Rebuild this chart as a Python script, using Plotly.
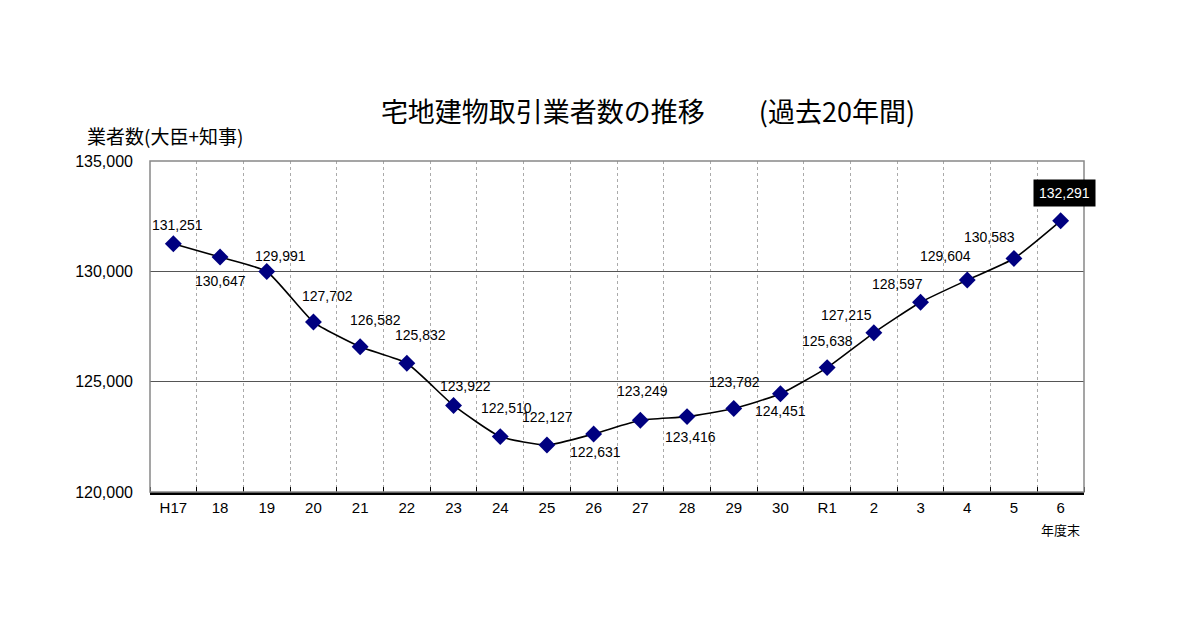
import plotly.graph_objects as go

categories = ["H17", "18", "19", "20", "21", "22", "23", "24", "25", "26",
              "27", "28", "29", "30", "R1", "2", "3", "4", "5", "6"]
values = [131251, 130647, 129991, 127702, 126582, 125832, 123922, 122510, 122127, 122631,
          123249, 123416, 123782, 124451, 125638, 127215, 128597, 129604, 130583, 132291]
# label offsets (pixels) for each data label
label_dx = [4, 0, 14, 14, 15, 14, 12, 6, 1, 2, 2, 3, 1, 0, 0, -27, -23, -22, -24, 4]
label_dy = [19, -24, 16, 26, 27, 28, 19, 29, 28, -18, 29, -20, 27, -17, 27, 18, 18, 24, 21, 28]

xs = list(range(len(categories)))
fig = go.Figure()
fig.add_trace(go.Scatter(
    x=xs, y=values, mode="lines+markers",
    line=dict(color="black", width=1.6, shape="spline", smoothing=0.5),
    marker=dict(symbol="diamond", size=13, color="#000080", line=dict(width=0)),
    hoverinfo="skip", showlegend=False))

fmt = lambda v: f"{v:,}"
for i, (x, v) in enumerate(zip(xs, values)):
    last = i == len(values) - 1
    fig.add_annotation(
        x=x, y=v, text=fmt(v), showarrow=False,
        xshift=label_dx[i], yshift=label_dy[i],
        font=dict(family="Liberation Sans, Arial", size=14,
                  color="white" if last else "black"),
        bgcolor="black" if last else None,
        borderpad=5 if last else 0)

fig.add_shape(type="rect", xref="x domain", yref="y domain", x0=0, x1=1, y0=0, y1=1,
              line=dict(color="#888888", width=1.5), layer="above")

fig.update_layout(
    width=1200, height=630, paper_bgcolor="white", plot_bgcolor="white",
    margin=dict(l=150, r=116, t=161, b=138),
    title=dict(text="宅地建物取引業者数の推移　　(過去20年間)", x=0.54, xanchor="center",
               y=0.822, yanchor="middle",
               font=dict(family="Noto Sans CJK JP", size=27, color="black")),
    xaxis=dict(range=[-0.5, len(categories) - 0.5], tickvals=xs, ticktext=categories,
               showgrid=False, zeroline=False, showline=True, linecolor="black", linewidth=2.5,
               ticks="", tickfont=dict(family="Liberation Sans, Arial", size=15, color="black"),
               minor=dict(tick0=-0.5, dtick=1, showgrid=True, gridcolor="#aaaaaa",
                          griddash="dot", gridwidth=1, ticks="inside", ticklen=5,
                          tickcolor="black")),
    yaxis=dict(range=[120000, 135000], tickvals=[120000, 125000, 130000, 135000],
               tickformat=",d", showgrid=True, gridcolor="#555555", gridwidth=1,
               zeroline=False, showline=False, ticks="", ticklabelstandoff=16,
               tickfont=dict(family="Liberation Sans, Arial", size=16, color="black")),
)

fig.add_annotation(x=-0.07, y=1.03, xref="paper", yref="paper", xanchor="left", yanchor="bottom",
                   text="業者数(大臣+知事)", showarrow=False,
                   font=dict(family="Noto Sans CJK JP", size=19, color="black"))
fig.add_annotation(x=len(categories) - 1, y=0, xref="x", yref="paper", yanchor="top",
                   yshift=-26, text="年度末", showarrow=False,
                   font=dict(family="Noto Sans CJK JP", size=13, color="black"))

fig.write_html("out.html")
